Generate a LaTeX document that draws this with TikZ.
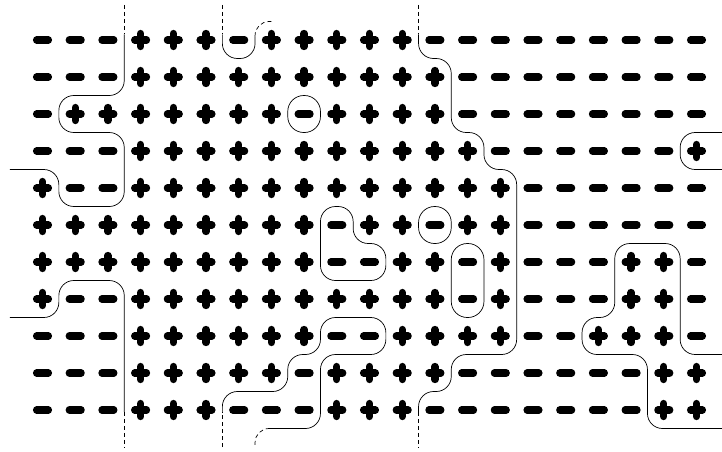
\documentclass[tikz,border=0pt]{standalone}
\usepackage{tikz}

\begin{document}
\begin{tikzpicture}[
  x=32.7pt, y=-37pt,
  signbar/.style={line width=7.3pt, line cap=round},
  wall/.style={line width=0.7pt, rounded corners=15pt},
  cut/.style={line width=0.7pt, dash pattern=on 4pt off 3pt, rounded corners=14pt}
]
\useasboundingbox (-42.5pt,40pt) rectangle (679.5pt,-411pt);

% 1 = plus, 0 = minus
\foreach \row [count=\i from 0] in {%
  {0,0,0,1,1,1,0,1,1,1,1,1,0,0,0,0,0,0,0,0,0},%
  {0,0,0,1,1,1,1,1,1,1,1,1,1,0,0,0,0,0,0,0,0},%
  {0,1,1,1,1,1,1,1,0,1,1,1,1,0,0,0,0,0,0,0,0},%
  {0,0,0,1,1,1,1,1,1,1,1,1,1,1,0,0,0,0,0,0,1},%
  {1,0,0,1,1,1,1,1,1,1,1,1,1,1,1,0,0,0,0,0,0},%
  {1,1,1,1,1,1,1,1,1,0,1,1,0,1,1,0,0,0,0,0,0},%
  {1,1,1,1,1,1,1,1,1,0,0,1,1,0,1,0,0,0,1,1,0},%
  {1,0,0,1,1,1,1,1,1,1,1,1,1,0,1,0,0,0,1,1,0},%
  {0,0,0,1,1,1,1,1,1,0,0,1,1,1,1,0,0,1,1,1,0},%
  {0,0,0,1,1,1,1,1,0,1,1,1,1,0,0,0,0,0,0,1,1},%
  {0,0,0,1,1,1,0,0,0,1,1,1,0,0,0,0,0,0,0,1,1}%
}{
  \foreach \s [count=\j from 0] in \row {
    \draw[signbar] (\j,\i) ++(-5.9pt,0) -- ++(11.8pt,0);
    \ifnum\s=1 \draw[signbar] (\j,\i) ++(0,-6.5pt) -- ++(0,13pt); \fi
  }
}

% left walls
\draw[cut] (2.5,-0.95) -- (2.5,-0.15);
\draw[wall] (2.5,-0.15) -- (2.5,1.5) -- (0.5,1.5) -- (0.5,2.5) -- (2.5,2.5) -- (2.5,4.5) -- (0.5,4.5) -- (0.5,3.5) -- (-1,3.5);
\draw[wall] (-1,7.5) -- (0.5,7.5) -- (0.5,6.5) -- (2.5,6.5) -- (2.5,10.05);
\draw[cut] (2.5,10.05) -- (2.5,11);

% middle walls
\draw[cut] (5.5,-0.95) -- (5.5,-0.15);
\draw[wall] (5.5,-0.15) -- (5.5,0.5) -- (6.5,0.5) -- (6.5,-0.1);
\draw[cut] (6.5,-0.1) -- (6.5,-0.5) -- (7.05,-0.5);
\draw[cut] (5.5,11) -- (5.5,10.05);
\draw[wall] (5.5,10.05) -- (5.5,9.5) -- (7.5,9.5) -- (7.5,8.5) -- (8.5,8.5) -- (8.5,7.5) -- (10.5,7.5) -- (10.5,8.5) -- (8.5,8.5) -- (8.5,10.5) -- (6.95,10.5);
\draw[cut] (6.95,10.5) -- (6.5,10.5) -- (6.5,11);

% right walls
\draw[cut] (11.5,-0.95) -- (11.5,-0.15);
\draw[wall] (11.5,-0.15) -- (11.5,0.5) -- (12.5,0.5) -- (12.5,2.5) -- (13.5,2.5) -- (13.5,3.5) -- (14.5,3.5) -- (14.5,8.5) -- (12.5,8.5) -- (12.5,9.5) -- (11.5,9.5) -- (11.5,10.05);
\draw[cut] (11.5,10.05) -- (11.5,11);
\draw[wall] (20.8,2.5) -- (19.5,2.5) -- (19.5,3.5) -- (20.8,3.5);
\draw[wall] (20.8,10.5) -- (18.5,10.5) -- (18.5,8.5) -- (16.5,8.5) -- (16.5,7.5) -- (17.5,7.5) -- (17.5,5.5) -- (19.5,5.5) -- (19.5,8.5) -- (20.8,8.5);

% islands
\draw[wall, rounded corners=16pt] (7.5,1.5) rectangle (8.5,2.5);
\draw[wall] (8.5,4.5) -- (9.5,4.5) -- (9.5,5.5) -- (10.5,5.5) -- (10.5,6.5) -- (8.5,6.5) -- cycle;
\draw[wall, rounded corners=16pt] (11.5,4.5) rectangle (12.5,5.5);
\draw[wall, rounded corners=16pt] (12.5,5.5) rectangle (13.5,7.5);
\end{tikzpicture}
\end{document}
